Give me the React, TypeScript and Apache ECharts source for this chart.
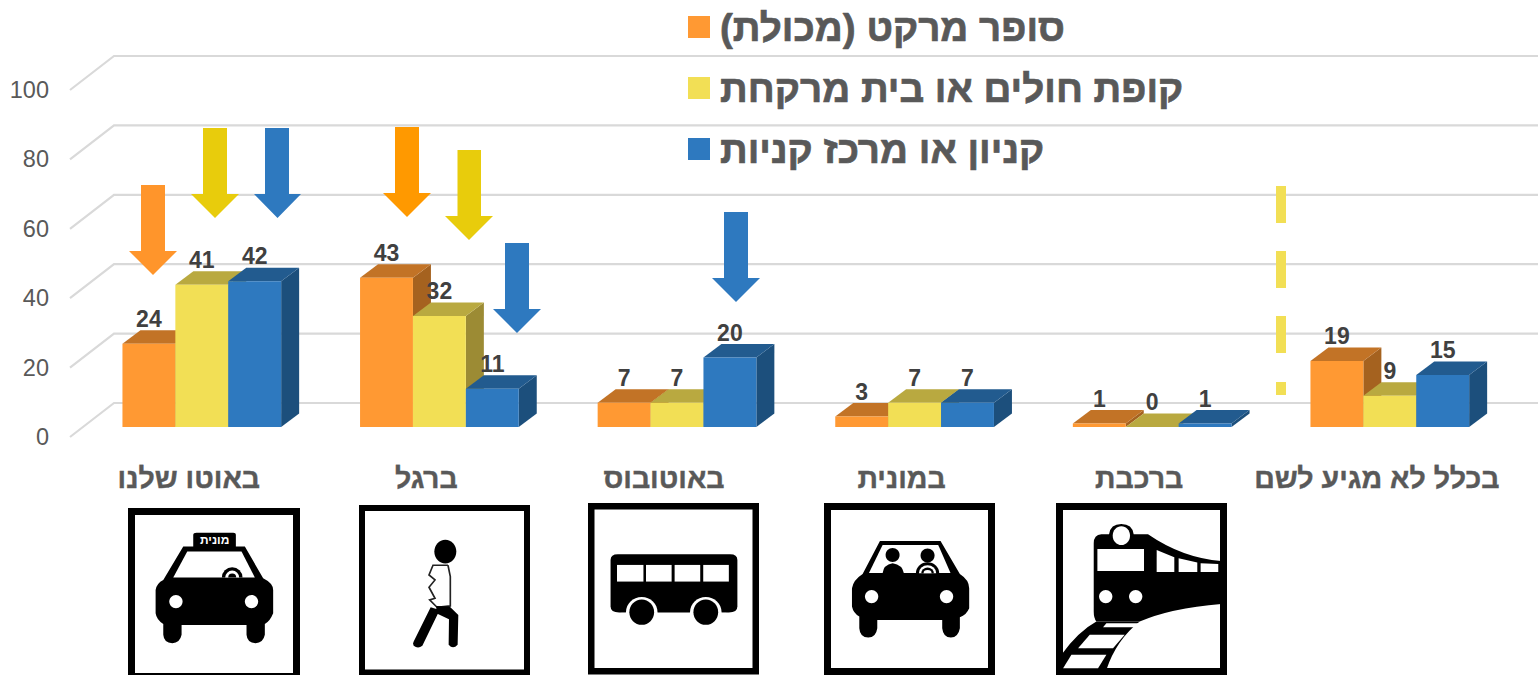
import React, { useEffect, useRef } from "react";
import * as echarts from "echarts";

const categories = ["באוטו שלנו", "ברגל", "באוטובוס", "במונית", "ברכבת", "בכלל לא מגיע לשם"];
const seriesNames = ["סופר מרקט (מכולת)", "קופת חולים או בית מרקחת", "קניון או מרכז קניות"];
const superMarket = [24, 43, 7, 3, 1, 19];
const clinic = [41, 32, 7, 7, 0, 9];
const mall = [42, 11, 20, 7, 1, 15];
const yTicks = [0, 20, 40, 60, 80, 100];

const allValues = [superMarket, clinic, mall];
const palette = [
  { front: "#FF9933", top: "#C27326", side: "#A5621F" },
  { front: "#F2DF55", top: "#B9A940", side: "#9C8B34" },
  { front: "#2E79BF", top: "#225B8F", side: "#1C4F7C" },
];

const FONT = "'Liberation Sans', Arial, sans-serif";
const BAR_W = 52.9;
const DEPTH_X = 18;
const DEPTH_Y = 13.5;
const BASE_UP = 10;
const CENTER_SHIFT = 13;

const shapes: Record<string, string> = {
  taxiBody:
    "M280 140 L280 105 Q280 98 290 98 L400 98 Q408 98 408 105 L408 140 L435 140 L490 235 Q520 250 520 270 L520 340 Q510 365 495 372 L495 405 Q490 430 467 430 Q442 430 440 405 L440 375 L245 375 L245 405 Q240 430 217 430 Q192 430 190 405 L190 372 Q170 360 167 340 L167 270 Q170 250 190 240 L250 140 Z",
  taxiWindow: "M262 155 L425 155 L465 233 L220 233 Z",
  wheelOuter: "M366 233 A31 31 0 0 1 428 233 Z",
  wheelMid: "M376 233 A21 21 0 0 1 418 233 Z",
  wheelIn: "M385 233 A12 12 0 0 1 409 233 Z",
  walkerLegs:
    "M993 322 L1020 330 L968 438 Q955 448 942 438 Q938 430 942 425 Z M1010 318 L1050 320 L1076 345 L1074 435 Q1060 450 1047 435 L1048 358 L1010 340 Z",
  busBody:
    "M112 193 L375 193 Q392 193 392 210 L392 350 Q392 368 372 368 L115 368 Q95 368 95 350 L95 210 Q95 193 112 193 Z",
  carBody:
    "M180 123 L362 123 L420 222 Q448 240 448 265 L448 325 Q440 345 420 352 L420 385 Q415 413 393 413 Q370 413 367 385 L367 360 L172 360 L172 385 Q168 413 145 413 Q120 413 118 385 L118 350 Q100 340 96 320 L96 265 Q100 240 128 222 Z",
  carWindow: "M188 135 L355 135 L392 219 L147 219 Z",
  shoulders: "M188 220 Q190 195 218 190 Q248 195 252 220 Z",
  ringA: "M288 220 A35 33 0 0 1 358 220 Z",
  ringB: "M297 220 A26 24 0 0 1 349 220 Z",
  ringC: "M304 220 A19 17 0 0 1 342 220 Z",
  ringD: "M311 220 A12 10 0 0 1 335 220 Z",
  trainBody:
    "M822 130 Q822 105 845 103 L868 103 Q872 72 905 72 Q938 72 942 103 L985 103 Q1090 175 1205 183 L1205 312 Q1050 325 960 365 L830 365 Q822 355 822 335 Z",
  track: "M830 365 L960 365 Q890 420 860 510 L725 510 L725 465 Q775 395 830 365 Z",
};
Object.keys(shapes).forEach((name) => {
  echarts.graphic.registerShape(name, echarts.graphic.extendPath(shapes[name], {}));
});

function arrow(x0: number, x1: number, top: number, headY: number, tipY: number, hx0: number, hx1: number, fill: string) {
  const tipX = (hx0 + hx1) / 2;
  return {
    type: "polygon",
    z: 20,
    silent: true,
    shape: { points: [[x0, top], [x1, top], [x1, headY], [hx1, headY], [tipX, tipY], [hx0, headY], [x0, headY]] },
    style: { fill },
  };
}

function frame(x0: number, x1: number, top: number, innerBottom: number, t: number) {
  return {
    type: "rect",
    z: 20,
    silent: true,
    shape: { x: x0 + t / 2, y: top + t / 2, width: x1 - x0 - t, height: innerBottom - top },
    style: { fill: "#fff", stroke: "#000", lineWidth: t },
  };
}

const k = (type: string, fill = "#000") => ({ type, style: { fill } });
const poly = (points: number[][], fill = "#fff") => ({ type: "polygon", shape: { points }, style: { fill } });
const ell = (cx: number, cy: number, rx: number, ry: number, fill = "#fff") => ({
  type: "ellipse",
  shape: { cx, cy, rx, ry },
  style: { fill },
});

function icons() {
  const z2 = { x: 100, y: 500, scaleX: 1 / 3, scaleY: 1 / 3 };
  const z3 = { x: 570, y: 490, scaleX: 1 / 2.34, scaleY: 1 / 3 };
  const z4 = { x: 820, y: 500, scaleX: 1 / 3, scaleY: 1 / 3 };
  const wrap = (t: any, children: any[]) => ({
    type: "group",
    z: 21,
    silent: true,
    ...t,
    children: children.map((c) => ({ ...c, z: 21 })),
  });
  return [
    frame(128, 300, 508, 673, 7),
    frame(359, 530, 505, 669.5, 6),
    frame(588, 759, 503, 668, 6.5),
    frame(824, 995, 503, 668, 7),
    frame(1056, 1227, 503, 668, 7),
    wrap(z2, [
      k("taxiBody"),
      k("taxiWindow", "#fff"),
      k("wheelOuter"),
      k("wheelMid", "#fff"),
      k("wheelIn"),
      ell(228, 305, 20, 20),
      ell(455, 305, 20, 20),
      {
        type: "text",
        x: 344,
        y: 120,
        style: {
          text: "מונית",
          fill: "#fff",
          font: `bold 36px ${FONT}`,
          align: "center",
          verticalAlign: "middle",
        },
      },
    ]),
    wrap(z2, [
      ell(1037, 155, 33, 36, "#000"),
      {
        type: "polyline",
        shape: {
          points: [[1045, 196], [1052, 230], [1052, 318], [1012, 322], [990, 300], [1006, 295], [988, 262], [1006, 240], [988, 225], [1000, 196], [1045, 196]],
        },
        style: { fill: "none", stroke: "#222", lineWidth: 5 },
      },
      k("walkerLegs"),
    ]),
    wrap(z3, [
      k("busBody"),
      poly([[110, 225], [172, 225], [172, 275], [110, 275]]),
      poly([[178, 225], [238, 225], [238, 275], [178, 275]]),
      poly([[245, 225], [305, 225], [305, 275], [245, 275]]),
      poly([[312, 225], [372, 225], [372, 275], [312, 275]]),
      ell(168, 367, 37, 46),
      ell(318, 367, 37, 46),
      poly([[120, 369], [138, 369], [138, 415], [120, 415]]),
      poly([[198, 369], [288, 369], [288, 415], [198, 415]]),
      poly([[348, 369], [366, 369], [366, 415], [348, 415]]),
      ell(168, 367, 29, 38, "#000"),
      ell(318, 367, 29, 38, "#000"),
    ]),
    wrap(z4, [
      k("carBody"),
      k("carWindow", "#fff"),
      ell(218, 165, 21, 21, "#000"),
      k("shoulders"),
      ell(323, 167, 21, 21, "#000"),
      k("ringA"),
      k("ringB", "#fff"),
      k("ringC"),
      k("ringD", "#fff"),
      ell(155, 290, 20, 20),
      ell(380, 290, 20, 20),
    ]),
    wrap(z4, [
      k("trainBody"),
      k("track"),
      ell(905, 107, 26, 28),
      poly([[833, 147], [973, 147], [973, 213], [833, 213]]),
      poly([[1011, 150], [1064, 172], [1064, 216], [1011, 216]]),
      poly([[1077, 175], [1133, 188], [1133, 216], [1077, 216]]),
      poly([[1143, 190], [1196, 192], [1196, 216], [1143, 216]]),
      ell(858, 290, 20, 20),
      ell(948, 290, 20, 20),
      poly([[860, 370], [960, 370], [945, 382], [850, 382]]),
      poly([[810, 405], [915, 405], [880, 445], [775, 445]]),
      poly([[755, 465], [860, 465], [835, 505], [730, 505]]),
    ]),
  ];
}

function dashes() {
  const spans = [[186, 223], [251, 288], [316, 353], [382, 395]];
  return spans.map(([a, b]) => ({
    type: "rect",
    z: 20,
    silent: true,
    shape: { x: 1276, y: a, width: 10, height: b - a },
    style: { fill: "#F2DF55" },
  }));
}

function barSeries(idx: number) {
  const colors = palette[idx];
  return {
    type: "custom",
    name: seriesNames[idx],
    z: 3 + idx,
    itemStyle: { color: colors.front },
    data: categories.map((_, i) => [i, allValues[idx][i]]),
    encode: { x: 0, y: 1 },
    renderItem: (_p: any, api: any) => {
      const i = api.value(0);
      const v = api.value(1);
      const [cx, base] = api.coord([i, 0]);
      const [, topFront] = api.coord([i, v]);
      const x0 = cx + CENTER_SHIFT + (idx - 1.5) * BAR_W;
      const x1 = x0 + BAR_W;
      const yb = base - BASE_UP;
      const yt = topFront - BASE_UP;
      return {
        type: "group",
        children: [
          {
            type: "polygon",
            shape: { points: [[x1, yb], [x1 + DEPTH_X, yb - DEPTH_Y], [x1 + DEPTH_X, yt - DEPTH_Y], [x1, yt]] },
            style: { fill: colors.side },
          },
          {
            type: "polygon",
            shape: { points: [[x0, yt], [x0 + DEPTH_X, yt - DEPTH_Y], [x1 + DEPTH_X, yt - DEPTH_Y], [x1, yt]] },
            style: { fill: colors.top },
          },
          {
            type: "rect",
            shape: { x: x0, y: yt, width: BAR_W, height: yb - yt },
            style: { fill: colors.front },
          },
          {
            type: "text",
            x: (x0 + x1) / 2,
            y: yt - 25,
            z2: 50,
            style: {
              text: String(v),
              fill: "#404040",
              font: `bold 23px ${FONT}`,
              align: "center",
              verticalAlign: "middle",
            },
          },
        ],
      };
    },
  };
}

function wallSeries() {
  return {
    type: "custom",
    name: "grid",
    z: 1,
    silent: true,
    data: yTicks.map((t) => [0, t]),
    encode: { y: 1 },
    renderItem: (params: any, api: any) => {
      const [, y] = api.coord([0, api.value(1)]);
      const left = params.coordSys.x;
      const w = params.coordSys.width;
      return {
        type: "polyline",
        shape: { points: [[left, y], [left + 44, y - 34], [left + w + 44, y - 34]] },
        style: { fill: "none", stroke: "#D9D9D9", lineWidth: 2.2 },
      };
    },
  };
}

export default function App() {
  const ref = useRef<HTMLDivElement>(null);
  useEffect(() => {
    document.body.style.margin = "0";
    const chart = echarts.init(ref.current!, undefined, { renderer: "svg" });
    chart.setOption({
      animation: false,
      backgroundColor: "#fff",
      grid: { left: 70, top: 90, width: 1425.6, height: 347, containLabel: false },
      xAxis: {
        type: "category",
        data: categories,
        axisLine: { show: false },
        axisTick: { show: false },
        axisLabel: {
          margin: 26,
          interval: 0,
          color: "#595959",
          fontFamily: FONT,
          fontWeight: "bold",
          fontSize: 28.5,
          textBorderColor: "#595959",
          textBorderWidth: 0.4,
        },
      },
      yAxis: {
        type: "value",
        min: 0,
        max: 100,
        interval: 20,
        axisLine: { show: false },
        axisTick: { show: false },
        splitLine: { show: false },
        axisLabel: { margin: 21, color: "#595959", fontFamily: FONT, fontSize: 23.5 },
      },
      legend: {
        data: seriesNames,
        orient: "vertical",
        left: 683,
        top: 2,
        itemWidth: 22,
        itemHeight: 22,
        itemGap: 21,
        icon: "rect",
        selectedMode: false,
        formatter: (n: string) => n + "\u200F",
        textStyle: {
          color: "#595959",
          fontFamily: FONT,
          fontWeight: "bold",
          fontSize: 38.6,
          lineHeight: 40,
          padding: [0, 0, 0, 5],
          textBorderColor: "#595959",
          textBorderWidth: 0.7,
        },
      },
      series: [wallSeries(), barSeries(0), barSeries(1), barSeries(2)],
      graphic: [
        arrow(141, 165, 185, 251, 275, 129, 177, "#FF952B"),
        arrow(203, 227, 128, 194, 218, 191, 239, "#E8CC0C"),
        arrow(265, 289, 128, 194, 218, 254, 301, "#2E79BF"),
        arrow(395, 419, 127, 193, 217, 383, 431, "#FF9900"),
        arrow(457.5, 481, 150, 216, 240, 445, 493, "#E8CC0C"),
        arrow(505, 529, 243, 309, 333, 493, 541, "#2E79BF"),
        arrow(724, 748, 212, 278, 302, 712, 760, "#2E79BF"),
        ...dashes(),
        ...icons(),
      ],
    });
    return () => chart.dispose();
  }, []);
  return <div ref={ref} style={{ width: 1538, height: 675 }} />;
}
